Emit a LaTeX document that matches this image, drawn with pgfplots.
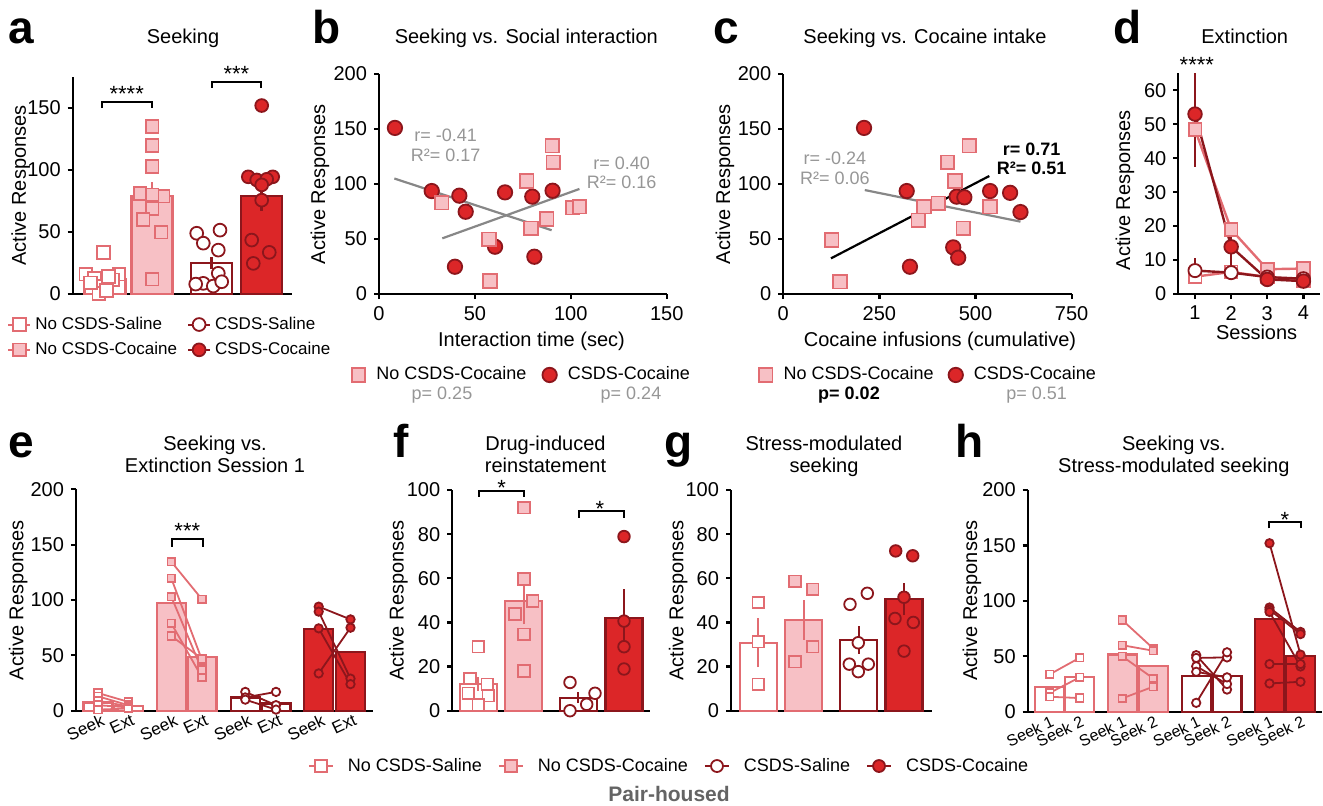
\documentclass[border=0pt]{standalone}
\usepackage{pgfplots}
\pgfplotsset{compat=1.18}
\usepackage{fontspec}
\setmainfont{Liberation Sans}
\definecolor{pinkE}{RGB}{226,108,114}
\definecolor{pinkF}{RGB}{247,192,197}
\definecolor{dredE}{RGB}{140,22,28}
\definecolor{redF}{RGB}{220,38,40}
\definecolor{annGray}{RGB}{150,150,150}
\definecolor{lineGray}{RGB}{135,135,135}
\definecolor{phGray}{RGB}{100,100,100}
\newcommand{\fTick}{\fontsize{10}{12}\selectfont}
\newcommand{\fLeg}{\fontsize{9}{11}\selectfont}
\newcommand{\fLet}{\fontsize{23}{26}\selectfont\bfseries}
\newcommand{\fAnn}{\fontsize{9}{11}\selectfont}
\pgfplotsset{
  base/.style={scale only axis, axis lines=left, axis line style={-, line width=1.1pt},
    tick align=outside, major tick length=2.5pt, every tick/.style={black, line width=1.1pt},
    tick label style={font=\fTick}, /pgf/number format/assume math mode=true,
    label style={font=\fTick}, clip=false, ymin=0},
  sqO/.style={mark=square*, mark options={solid, fill=white, draw=pinkE, line width=0.9pt}},
  sqF/.style={mark=square*, mark options={solid, fill=pinkF, draw=pinkE, line width=0.9pt}},
  ciO/.style={mark=*, mark options={solid, fill=white, draw=dredE, line width=0.9pt}},
  ciF/.style={mark=*, mark options={solid, fill=redF, draw=dredE, line width=0.9pt}},
  barA/.style={ybar, bar shift=0pt, draw=pinkE, fill=white, line width=1.1pt, forget plot},
  barB/.style={ybar, bar shift=0pt, draw=pinkE, fill=pinkF, line width=1.1pt, forget plot},
  barC/.style={ybar, bar shift=0pt, draw=dredE, fill=white, line width=1.1pt, forget plot},
  barD/.style={ybar, bar shift=0pt, draw=dredE, fill=redF, line width=1.1pt, forget plot},
  errP/.style={pinkE, line width=1.1pt, mark=none, forget plot},
  errR/.style={dredE, line width=1.1pt, mark=none, forget plot},
}
\begin{document}
\begin{tikzpicture}[x=0.5pt,y=-0.5pt]
\path[use as bounding box] (0,0) rectangle (1323,805);

% ---------------- panel a
\begin{axis}[base, at={(36.35pt,-147pt)}, anchor=south west, width=109.5pt, height=108.5pt,
  xmin=0, xmax=219, ymax=175, ytick={0,50,100,150}, xtick=\empty, bar width=20.5pt,
  ylabel={Active Responses}, ylabel style={at={(axis description cs:-0.237,0.5)}, anchor=center},
  legend columns=2, legend cell align=left,
  legend style={at={(axis description cs:-0.30,-0.085)}, anchor=north west, draw=none, fill=none,
    font=\fontsize{8.5}{10}\selectfont, inner sep=0pt, row sep=1pt,
    /tikz/every even column/.append style={column sep=3pt}},
  legend image code/.code={\draw[mark repeat=2,mark phase=2,#1] plot coordinates {(0pt,0pt) (5.5pt,0pt) (11pt,0pt)};}]
\addlegendimage{pinkE, line width=1pt, sqO, mark size=3.2pt}\addlegendentry{No CSDS-Saline}
\addlegendimage{dredE, line width=1pt, ciO, mark size=3.2pt}\addlegendentry{CSDS-Saline}
\addlegendimage{pinkE, line width=1pt, sqF, mark size=3.2pt}\addlegendentry{No CSDS-Cocaine}
\addlegendimage{dredE, line width=1pt, ciF, mark size=3.2pt}\addlegendentry{CSDS-Cocaine}
\addplot[barA] coordinates {(32.3,12.2)};
\addplot[barB] coordinates {(79.3,78.9)};
\addplot[barC] coordinates {(138.8,25)};
\addplot[barD] coordinates {(188.8,79.1)};
\addplot[errP] coordinates {(32.3,9.2) (32.3,15.2)};
\addplot[errP] coordinates {(79.3,67.4) (79.3,90.4)};
\addplot[errR] coordinates {(138.8,20) (138.8,30)};
\addplot[errR] coordinates {(188.8,67.1) (188.8,91.1)};
\addplot[only marks, sqO, mark size=3.2pt, forget plot] coordinates {(30.6,33.6) (13.3,16) (21.6,12.6) (46.3,16) (40,11.3) (27.3,6) (26.3,0.5) (34,3) (18,9) (36,14)};
\addplot[only marks, sqF, mark size=3.2pt, forget plot] coordinates {(79.3,135) (79.3,120) (79.3,103) (67.3,81) (90.3,79) (79.3,80) (79.3,69) (70.3,60) (88.3,50) (79.3,12)};
\addplot[only marks, ciO, mark size=3.2pt, forget plot] coordinates {(124,49) (130.6,41) (147.3,51.5) (145.6,35.4) (145.6,16.7) (130.6,8.6) (140.6,6.4) (149,9.9) (123,8)};
\addplot[only marks, ciF, mark size=3.2pt, forget plot] coordinates {(189,152) (175.6,94.5) (200,94.5) (184,92) (194,92.5) (189,88) (189,75.7) (179,43.5) (196.6,33.6) (180.6,24.7)};
\draw[line width=1pt] (axis cs:29,150) -- (axis cs:29,154.8) -- (axis cs:79,154.8) -- (axis cs:79,150);
\node[font=\fontsize{11}{12}\selectfont, anchor=base, inner sep=0pt] at (axis cs:54,155.5) {****};
\draw[line width=1pt] (axis cs:139,166.5) -- (axis cs:139,171) -- (axis cs:188.3,171) -- (axis cs:188.3,166.5);
\node[font=\fontsize{11}{12}\selectfont, anchor=base, inner sep=0pt] at (axis cs:163.7,171.5) {***};
\end{axis}

% ---------------- panel b
\begin{axis}[base, at={(189.5pt,-147pt)}, anchor=south west, width=143.85pt, height=110pt,
  xmin=0, xmax=150, ymax=200, xtick={0,50,100,150}, ytick={0,50,100,150,200},
  xlabel={Interaction time (sec)}, xlabel style={at={(axis description cs:0.53,-0.2395)}, anchor=base},
  ylabel={Active Responses}, ylabel style={at={(axis description cs:-0.205,0.5)}, anchor=center},
  legend columns=2, legend cell align=left,
  legend style={at={(axis description cs:-0.096,-0.368)}, anchor=west, draw=none, fill=none,
    font=\fLeg, inner sep=0pt, /tikz/every even column/.append style={column sep=6pt},
    /tikz/every odd column/.append style={column sep=3.5pt}},
  legend image code/.code={\draw[mark repeat=2,mark phase=2,#1] plot coordinates {(0pt,0pt) (5pt,0pt) (10pt,0pt)};}]
\addlegendimage{only marks, sqF, mark size=3.4pt}\addlegendentry{No CSDS-Cocaine}
\addlegendimage{only marks, ciF, mark size=3.6pt}\addlegendentry{CSDS-Cocaine}
\addplot[lineGray, line width=1.1pt, forget plot] coordinates {(8,105) (90,58)};
\addplot[lineGray, line width=1.1pt, forget plot] coordinates {(33,50.6) (104.5,95.5)};
\addplot[only marks, ciF, mark size=3.6pt, forget plot] coordinates {(8.3,151) (27.5,93.6) (41.9,89.4) (45.2,74.8) (65.7,92.4) (79.9,88.5) (90.5,93.9) (60.5,43) (39.6,24.8) (81,33.9)};
\addplot[only marks, sqF, mark size=3.4pt, forget plot] coordinates {(32.7,83) (57.4,49.7) (57.9,11.8) (77,102.7) (79.2,59.7) (87.4,68.2) (90.4,134.8) (90.9,119.7) (101,78.5) (104.5,79.4)};
\end{axis}

% ---------------- panel c
\begin{axis}[base, at={(391.65pt,-147pt)}, anchor=south west, width=144.15pt, height=110pt,
  xmin=0, xmax=750, ymax=200, xtick={0,250,500,750}, ytick={0,50,100,150,200},
  xlabel={Cocaine infusions (cumulative)}, xlabel style={at={(axis description cs:0.5435,-0.2395)}, anchor=base},
  ylabel={Active Responses}, ylabel style={at={(axis description cs:-0.202,0.5)}, anchor=center},
  legend columns=2, legend cell align=left,
  legend style={at={(axis description cs:-0.086,-0.368)}, anchor=west, draw=none, fill=none,
    font=\fLeg, inner sep=0pt, /tikz/every even column/.append style={column sep=5.5pt},
    /tikz/every odd column/.append style={column sep=3.5pt}},
  legend image code/.code={\draw[mark repeat=2,mark phase=2,#1] plot coordinates {(0pt,0pt) (5pt,0pt) (10pt,0pt)};}]
\addlegendimage{only marks, sqF, mark size=3.4pt}\addlegendentry{No CSDS-Cocaine}
\addlegendimage{only marks, ciF, mark size=3.6pt}\addlegendentry{CSDS-Cocaine}
\addplot[black, line width=1.1pt, forget plot] coordinates {(124,32.4) (536,107.3)};
\addplot[lineGray, line width=1.1pt, forget plot] coordinates {(212,94.5) (617,65.8)};
\addplot[only marks, ciF, mark size=3.6pt, forget plot] coordinates {(210,151) (321,93.6) (451,88.5) (471,87.9) (538,93.6) (590,92) (617,74.5) (329.5,24.8) (442,42.4) (455,33)};
\addplot[only marks, sqF, mark size=3.4pt, forget plot] coordinates {(126,49) (147,11.2) (351,67) (366,79.4) (403,82.4) (427,119.7) (447,102.7) (484,134.8) (468,59.7) (538,79.4)};
\end{axis}

% ---------------- panel d
\begin{axis}[base, at={(589.15pt,-147pt)}, anchor=south west, width=70.85pt, height=110.35pt,
  xmin=0.537, xmax=4.46, ymax=65, xtick={1,2,3,4}, ytick={0,10,20,30,40,50,60},
  xlabel={Sessions}, xlabel style={at={(axis description cs:0.553,-0.205)}, anchor=base},
  ylabel={Active Responses}, ylabel style={at={(axis description cs:-0.376,0.47)}, anchor=center}]
\addplot[pinkE, line width=1.2pt, sqO, mark size=3.2pt, forget plot] coordinates {(1,5.1) (2,6.5) (3,5.0) (4,4.0)};
\addplot[pinkE, line width=1.2pt, sqF, mark size=3.2pt, forget plot] coordinates {(1,48.4) (2,19) (3,7.3) (4,7.5)};
\addplot[errR] coordinates {(1,3.2) (1,10.6)};
\addplot[dredE, line width=1.2pt, ciO, mark size=3.3pt, forget plot] coordinates {(1,6.9) (2,6.3) (3,5.0) (4,4.5)};
\addplot[errR] coordinates {(1,37.5) (1,65)};
\addplot[errR] coordinates {(2,7.9) (2,19.9)};
\addplot[dredE, line width=1.2pt, ciF, mark size=3.4pt, forget plot] coordinates {(1,53) (2,13.9) (3,4.3) (4,3.8)};
\node[font=\fontsize{11}{12}\selectfont, anchor=base, inner sep=0pt] at (axis cs:1.05,65.2) {****};
\end{axis}

% ---------------- panel e
\begin{axis}[base, at={(38pt,-355.35pt)}, anchor=south west, width=148.5pt, height=110.7pt,
  xmin=0, xmax=297, ymax=200, ytick={0,50,100,150,200}, bar width=14.5pt,
  xtick={22,52.3,95.3,126,169.3,200,242.7,274.5},
  xticklabels={Seek,Ext,Seek,Ext,Seek,Ext,Seek,Ext}, xtick style={draw=none},
  x tick label style={rotate=25, anchor=north east, xshift=5pt, yshift=4pt, font=\fontsize{8.5}{10}\selectfont},
  ylabel={Active Responses}, ylabel style={at={(axis description cs:-0.195,0.5)}, anchor=center}]
\addplot[barA] coordinates {(22,7.5) (52.3,4)};
\addplot[barB] coordinates {(95.3,97.6) (126,48.8)};
\addplot[barC] coordinates {(169.3,12) (200,6.6)};
\addplot[barD] coordinates {(242.7,73.5) (274.5,53.3)};
\addplot[pinkE, line width=0.9pt, sqO, mark size=1.9pt, forget plot] coordinates {(22,16) (52.3,8)};
\addplot[pinkE, line width=0.9pt, sqO, mark size=1.9pt, forget plot] coordinates {(22,13) (52.3,5)};
\addplot[pinkE, line width=0.9pt, sqO, mark size=1.9pt, forget plot] coordinates {(22,9) (52.3,4)};
\addplot[pinkE, line width=0.9pt, sqO, mark size=1.9pt, forget plot] coordinates {(22,5) (52.3,3)};
\addplot[pinkE, line width=0.9pt, sqO, mark size=1.9pt, forget plot] coordinates {(22,1) (52.3,2)};
\addplot[pinkE, line width=0.9pt, sqF, mark size=1.9pt, forget plot] coordinates {(95.3,134.6) (126,100.6)};
\addplot[pinkE, line width=0.9pt, sqF, mark size=1.9pt, forget plot] coordinates {(95.3,119.6) (126,45.8)};
\addplot[pinkE, line width=0.9pt, sqF, mark size=1.9pt, forget plot] coordinates {(95.3,103) (126,36.7)};
\addplot[pinkE, line width=0.9pt, sqF, mark size=1.9pt, forget plot] coordinates {(95.3,79) (126,30)};
\addplot[pinkE, line width=0.9pt, sqF, mark size=1.9pt, forget plot] coordinates {(95.3,67.5) (126,47)};
\addplot[dredE, line width=0.9pt, ciO, mark size=2.1pt, forget plot] coordinates {(169.3,17) (200,5)};
\addplot[dredE, line width=0.9pt, ciO, mark size=2.1pt, forget plot] coordinates {(169.3,12) (200,17)};
\addplot[dredE, line width=0.9pt, ciO, mark size=2.1pt, forget plot] coordinates {(169.3,10) (200,1)};
\addplot[dredE, line width=0.9pt, ciF, mark size=2.1pt, forget plot] coordinates {(242.7,94) (274.5,82.5)};
\addplot[dredE, line width=0.9pt, ciF, mark size=2.1pt, forget plot] coordinates {(242.7,89.5) (274.5,29)};
\addplot[dredE, line width=0.9pt, ciF, mark size=2.1pt, forget plot] coordinates {(242.7,74.4) (274.5,24)};
\addplot[dredE, line width=0.9pt, ciF, mark size=2.1pt, forget plot] coordinates {(242.7,33.7) (274.5,75)};
\draw[line width=1pt] (axis cs:95.7,148.1) -- (axis cs:95.7,154.8) -- (axis cs:127,154.8) -- (axis cs:127,148.1);
\node[font=\fontsize{11}{12}\selectfont, anchor=base, inner sep=0pt] at (axis cs:111.3,155.3) {***};
\end{axis}

% ---------------- panel f
\begin{axis}[base, at={(226.15pt,-355.35pt)}, anchor=south west, width=98.85pt, height=110.35pt,
  xmin=0, xmax=197.7, ymax=100, ytick={0,20,40,60,80,100}, xtick=\empty, bar width=18.5pt,
  ylabel={Active Responses}, ylabel style={at={(axis description cs:-0.273,0.5)}, anchor=center}]
\addplot[barA] coordinates {(26,12.15)};
\addplot[barB] coordinates {(71.5,49.7)};
\addplot[barC] coordinates {(126,5.9)};
\addplot[barD] coordinates {(171.7,41.9)};
\addplot[errP] coordinates {(26,8.95) (26,15.35)};
\addplot[errP] coordinates {(71.5,39.2) (71.5,60.2)};
\addplot[errR] coordinates {(126,3.4) (126,8.4)};
\addplot[errR] coordinates {(171.7,28.6) (171.7,55.2)};
\addplot[only marks, sqO, mark size=2.9pt, forget plot] coordinates {(26,29) (17.7,14.6) (35,12) (16,7.9) (36,6.8) (26,2.6)};
\addplot[only marks, sqF, mark size=2.9pt, forget plot] coordinates {(71.7,92) (71.7,59.7) (80.4,49.8) (62.7,43.8) (71.7,34.6) (71.7,18)};
\addplot[only marks, ciO, mark size=2.9pt, forget plot] coordinates {(117.7,12.8) (142.7,7.9) (134.4,2.9) (117.7,0)};
\addplot[only marks, ciF, mark size=2.9pt, forget plot] coordinates {(171.7,78.9) (171.7,40.6) (171.7,29) (171.7,18.9)};
\draw[line width=1pt] (axis cs:26.7,97) -- (axis cs:26.7,99.7) -- (axis cs:72,99.7) -- (axis cs:72,97);
\node[font=\fontsize{11}{12}\selectfont, anchor=base, inner sep=0pt] at (axis cs:49.3,97.5) {*};
\draw[line width=1pt] (axis cs:126.7,87.4) -- (axis cs:126.7,90.4) -- (axis cs:171.7,90.4) -- (axis cs:171.7,87.4);
\node[font=\fontsize{11}{12}\selectfont, anchor=base, inner sep=0pt] at (axis cs:147.7,88.2) {*};
\end{axis}

% ---------------- panel g
\begin{axis}[base, at={(365.5pt,-355.35pt)}, anchor=south west, width=100.35pt, height=110.35pt,
  xmin=0, xmax=200.7, ymax=100, ytick={0,20,40,60,80,100}, xtick=\empty, bar width=18.5pt,
  ylabel={Active Responses}, ylabel style={at={(axis description cs:-0.263,0.5)}, anchor=center},
  legend columns=4, legend cell align=left,
  legend style={at={(axis description cs:-0.304,-0.2506)}, anchor=center, draw=none, fill=none,
    font=\fLeg, inner sep=0pt, /tikz/every even column/.append style={column sep=6pt},
    /tikz/every odd column/.append style={column sep=5pt}},
  legend image code/.code={\draw[mark repeat=2,mark phase=2,#1] plot coordinates {(0pt,0pt) (6pt,0pt) (12pt,0pt)};}]
\addlegendimage{pinkE, line width=1pt, sqO, mark size=3pt}\addlegendentry{No CSDS-Saline}
\addlegendimage{pinkE, line width=1pt, sqF, mark size=3pt}\addlegendentry{No CSDS-Cocaine}
\addlegendimage{dredE, line width=1pt, ciO, mark size=3pt}\addlegendentry{CSDS-Saline}
\addlegendimage{dredE, line width=1pt, ciF, mark size=3pt}\addlegendentry{CSDS-Cocaine}
\addplot[barA] coordinates {(27.3,30.8)};
\addplot[barB] coordinates {(72.8,41.2)};
\addplot[barC] coordinates {(127.7,32)};
\addplot[barD] coordinates {(173,50.5)};
\addplot[errP] coordinates {(27.3,19.8) (27.3,41.8)};
\addplot[errP] coordinates {(72.8,32.2) (72.8,50.2)};
\addplot[errR] coordinates {(127.7,25.8) (127.7,38.2)};
\addplot[errR] coordinates {(173,43.3) (173,57.7)};
\addplot[only marks, sqO, mark size=2.9pt, forget plot] coordinates {(27.3,49) (27.3,31.3) (27.3,12)};
\addplot[only marks, sqF, mark size=2.9pt, forget plot] coordinates {(64,58.6) (81.7,55) (81.7,29) (64,22.2)};
\addplot[only marks, ciO, mark size=2.9pt, forget plot] coordinates {(119,48.2) (136.3,53.2) (127.3,30.8) (118.3,21.1) (127.3,17.7) (137.3,21.1)};
\addplot[only marks, ciF, mark size=2.9pt, forget plot] coordinates {(164.7,72.4) (181.7,70.2) (173,51.4) (164,41.8) (182.3,40) (173,27)};
\end{axis}

% ---------------- panel h
\begin{axis}[base, at={(513.85pt,-355.85pt)}, anchor=south west, width=147pt, height=110.85pt,
  xmin=0, xmax=294, ymax=200, ytick={0,50,100,150,200}, bar width=14.5pt,
  xtick={22,52,94.5,125.6,168.5,199.3,241.8,272.8},
  xticklabels={Seek 1,Seek 2,Seek 1,Seek 2,Seek 1,Seek 2,Seek 1,Seek 2}, xtick style={draw=none},
  x tick label style={rotate=25, anchor=north east, xshift=4pt, yshift=4pt, font=\fontsize{8}{9.5}\selectfont},
  ylabel={Active Responses}, ylabel style={at={(axis description cs:-0.19,0.5)}, anchor=center}]
\addplot[barA] coordinates {(22,22) (52,31)};
\addplot[barB] coordinates {(94.5,51.7) (125.6,41.2)};
\addplot[barC] coordinates {(168.5,32.2) (199.3,32.2)};
\addplot[barD] coordinates {(241.8,83.3) (272.8,50.5)};
\addplot[pinkE, line width=0.9pt, sqO, mark size=1.9pt, forget plot] coordinates {(22,33.7) (52,48.7)};
\addplot[pinkE, line width=0.9pt, sqO, mark size=1.9pt, forget plot] coordinates {(22,17) (52,31)};
\addplot[pinkE, line width=0.9pt, sqO, mark size=1.9pt, forget plot] coordinates {(22,13.5) (52,12.3)};
\addplot[pinkE, line width=0.9pt, sqF, mark size=1.9pt, forget plot] coordinates {(94.5,82.7) (125.6,57)};
\addplot[pinkE, line width=0.9pt, sqF, mark size=1.9pt, forget plot] coordinates {(94.5,60) (125.6,55)};
\addplot[pinkE, line width=0.9pt, sqF, mark size=1.9pt, forget plot] coordinates {(94.5,50) (125.6,30)};
\addplot[pinkE, line width=0.9pt, sqF, mark size=1.9pt, forget plot] coordinates {(94.5,12) (125.6,22.6)};
\addplot[dredE, line width=0.9pt, ciO, mark size=2.1pt, forget plot] coordinates {(168.5,51) (199.3,20)};
\addplot[dredE, line width=0.9pt, ciO, mark size=2.1pt, forget plot] coordinates {(168.5,48.5) (199.3,49)};
\addplot[dredE, line width=0.9pt, ciO, mark size=2.1pt, forget plot] coordinates {(168.5,41) (199.3,25)};
\addplot[dredE, line width=0.9pt, ciO, mark size=2.1pt, forget plot] coordinates {(168.5,36) (199.3,31)};
\addplot[dredE, line width=0.9pt, ciO, mark size=2.1pt, forget plot] coordinates {(168.5,8) (199.3,53.6)};
\addplot[dredE, line width=0.9pt, ciF, mark size=2.1pt, forget plot] coordinates {(241.8,152) (272.8,51.5)};
\addplot[dredE, line width=0.9pt, ciF, mark size=2.1pt, forget plot] coordinates {(241.8,94) (272.8,72)};
\addplot[dredE, line width=0.9pt, ciF, mark size=2.1pt, forget plot] coordinates {(241.8,92) (272.8,70)};
\addplot[dredE, line width=0.9pt, ciF, mark size=2.1pt, forget plot] coordinates {(241.8,90) (272.8,40.8)};
\addplot[dredE, line width=0.9pt, ciF, mark size=2.1pt, forget plot] coordinates {(241.8,43) (272.8,43)};
\addplot[dredE, line width=0.9pt, ciF, mark size=2.1pt, forget plot] coordinates {(241.8,25.5) (272.8,27)};
\draw[line width=1pt] (axis cs:241.3,165.5) -- (axis cs:241.3,171.5) -- (axis cs:273,171.5) -- (axis cs:273,165.5);
\node[font=\fontsize{11}{12}\selectfont, anchor=base, inner sep=0pt] at (axis cs:257.3,166.2) {*};
\end{axis}

% ---------------- titles, letters, annotations
\begin{scope}[every node/.style={inner sep=0pt}]
\node[font=\fLet, anchor=base west] at (8,43.5) {a};
\node[font=\fLet, anchor=base west] at (311.7,43.5) {b};
\node[font=\fLet, anchor=base west] at (713,43.5) {c};
\node[font=\fLet, anchor=base west] at (1113,43.5) {d};
\node[font=\fLet, anchor=base west] at (8,457) {e};
\node[font=\fLet, anchor=base west] at (393,457) {f};
\node[font=\fLet, anchor=base west] at (664,457) {g};
\node[font=\fLet, anchor=base west] at (955,457) {h};

\node[font=\fTick, anchor=base] at (183,43.5) {Seeking};
\node[font=\fTick, anchor=base] at (526.3,43.5) {Seeking vs. Social interaction};
\node[font=\fTick, anchor=base] at (925,43.5) {Seeking vs. Cocaine intake};
\node[font=\fTick, anchor=base] at (1244.7,43.5) {Extinction};

\node[font=\fTick, anchor=base] at (215,450) {Seeking vs.};
\node[font=\fTick, anchor=base] at (215,472) {Extinction Session 1};
\node[font=\fTick, anchor=base] at (545.5,450) {Drug-induced};
\node[font=\fTick, anchor=base] at (545.5,472) {reinstatement};
\node[font=\fTick, anchor=base] at (824,450) {Stress-modulated};
\node[font=\fTick, anchor=base] at (824,472) {seeking};
\node[font=\fTick, anchor=base] at (1173.8,450) {Seeking vs.};
\node[font=\fTick, anchor=base] at (1173.8,472) {Stress-modulated seeking};

\node[font=\fAnn, text=annGray, anchor=base] at (445.7,141) {r= -0.41};
\node[font=\fAnn, text=annGray, anchor=base] at (445.7,161) {R²= 0.17};
\node[font=\fAnn, text=annGray, anchor=base] at (621.7,169) {r= 0.40};
\node[font=\fAnn, text=annGray, anchor=base] at (621.7,188) {R²= 0.16};
\node[font=\fAnn, text=annGray, anchor=base] at (835,164) {r= -0.24};
\node[font=\fAnn, text=annGray, anchor=base] at (835,184) {R²= 0.06};
\node[font=\fAnn\bfseries, anchor=base] at (1031.7,155) {r= 0.71};
\node[font=\fAnn\bfseries, anchor=base] at (1031.7,174) {R²= 0.51};

\node[font=\fAnn, text=annGray, anchor=base] at (442,399) {p= 0.25};
\node[font=\fAnn, text=annGray, anchor=base] at (631,399) {p= 0.24};
\node[font=\fAnn\bfseries, anchor=base] at (849,399) {p= 0.02};
\node[font=\fAnn, text=annGray, anchor=base] at (1036.7,399) {p= 0.51};

\node[font=\fontsize{10.5}{12}\selectfont\bfseries, text=phGray, anchor=base] at (669,801) {Pair-housed};
\end{scope}
\end{tikzpicture}
\end{document}
